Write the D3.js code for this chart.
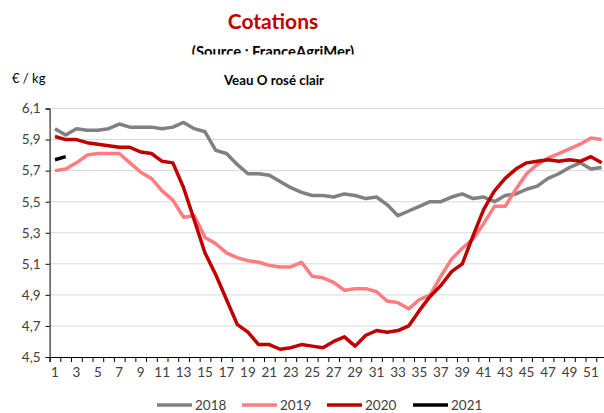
<!DOCTYPE html>
<html><head><meta charset="utf-8">
<script src="https://cdn.jsdelivr.net/npm/d3@7"></script>
<style>body{margin:0;background:#fff}svg{display:block}</style>
</head><body>
<svg id="c" width="604" height="413"></svg>
<script>
const weeks = [1,2,3,4,5,6,7,8,9,10,11,12,13,14,15,16,17,18,19,20,21,22,23,24,25,26,27,28,29,30,31,32,33,34,35,36,37,38,39,40,41,42,43,44,45,46,47,48,49,50,51,52];
const v2018 = [5.97,5.93,5.97,5.96,5.96,5.97,6.00,5.98,5.98,5.98,5.97,5.98,6.01,5.97,5.95,5.83,5.81,5.74,5.68,5.68,5.67,5.63,5.59,5.56,5.54,5.54,5.53,5.55,5.54,5.52,5.53,5.48,5.41,5.44,5.47,5.50,5.50,5.53,5.55,5.52,5.53,5.50,5.54,5.55,5.58,5.60,5.65,5.68,5.72,5.75,5.71,5.72];
const v2019 = [5.70,5.71,5.75,5.80,5.81,5.81,5.81,5.75,5.69,5.65,5.57,5.51,5.40,5.41,5.27,5.23,5.17,5.14,5.12,5.11,5.09,5.08,5.08,5.11,5.02,5.01,4.98,4.93,4.94,4.94,4.92,4.86,4.85,4.81,4.87,4.90,5.02,5.13,5.20,5.26,5.36,5.47,5.47,5.58,5.68,5.74,5.78,5.81,5.84,5.87,5.91,5.90];
const v2020 = [5.92,5.90,5.90,5.88,5.87,5.86,5.85,5.85,5.82,5.81,5.76,5.75,5.59,5.38,5.17,5.03,4.87,4.71,4.66,4.58,4.58,4.55,4.56,4.58,4.57,4.56,4.60,4.63,4.57,4.64,4.67,4.66,4.67,4.70,4.80,4.89,4.96,5.05,5.10,5.28,5.45,5.57,5.65,5.71,5.75,5.76,5.77,5.76,5.77,5.76,5.79,5.75];
const v2021 = [5.77,5.79];
const seriesNames = ["2018","2019","2020","2021"];
const seriesColors = ["#808080","#ff7c80","#c00000","#000000"];
const yTicks = [4.5,4.7,4.9,5.1,5.3,5.5,5.7,5.9,6.1];

const FONT = "Lato, 'Open Sans', sans-serif";
const svg = d3.select("#c");
const series = [v2018, v2019, v2020, v2021];

const pL = 49.6, pR = 607, pT = 108.5, pB = 357;
const x = d3.scaleBand().domain(weeks).range([pL, pR]).padding(0);
const xb = d3.scaleLinear().domain([0, weeks.length]).range([pL, pR]);
const y = d3.scaleLinear().domain([4.5, 6.1]).range([pB, pT]);

// titles
svg.append("text").attr("x", 273).attr("y", 29).attr("text-anchor","middle")
  .attr("font-family", FONT).attr("font-weight","bold").attr("font-size",21).attr("fill","#c00000").text("Cotations");
svg.append("clipPath").attr("id","srcclip").append("rect").attr("x",0).attr("y",0).attr("width",604).attr("height",54.5);
svg.append("text").attr("x", 273).attr("y", 57).attr("text-anchor","middle").attr("clip-path","url(#srcclip)")
  .attr("font-family", FONT).attr("font-weight","bold").attr("font-size",14.8).attr("fill","#000").text("(Source : FranceAgriMer)");
svg.append("text").attr("x", 12).attr("y", 83)
  .attr("font-family", FONT).attr("font-size",13).attr("fill","#000").text("€ / kg");
svg.append("text").attr("x", 274).attr("y", 85).attr("text-anchor","middle")
  .attr("font-family", FONT).attr("font-weight","bold").attr("font-size",13.3).attr("fill","#000").text("Veau O rosé clair");

// gridlines
svg.append("g").selectAll("line").data(yTicks.filter(d => d > 4.5)).join("line")
  .attr("x1", pL).attr("x2", 604).attr("y1", d => y(d)).attr("y2", d => y(d))
  .attr("stroke","#d9d9d9").attr("stroke-width",1);

// y axis
const ya = svg.append("g").attr("transform", `translate(${pL},0)`)
  .call(d3.axisLeft(y).tickValues(yTicks).tickSize(4).tickPadding(5).tickFormat(d => d3.format(".1f")(d).replace(".", ",")));
ya.select(".domain").attr("stroke","#000");
ya.selectAll(".tick line").attr("stroke","#000");
ya.selectAll("text").attr("font-family", FONT).attr("font-size",13.5).attr("fill","#404040");

// x axis: ticks at category boundaries
const xt = svg.append("g").attr("transform", `translate(0,${pB})`)
  .call(d3.axisBottom(xb).tickValues(d3.range(0, weeks.length + 1)).tickSize(5).tickFormat(""));
xt.select(".domain").attr("stroke","#000");
xt.selectAll(".tick line").attr("stroke","#000");
const xl = svg.append("g").attr("transform", `translate(0,${pB})`)
  .call(d3.axisBottom(x).tickValues(weeks.filter(w => w % 2 === 1)).tickSize(0).tickPadding(10));
xl.select(".domain").remove();
xl.selectAll("text").attr("font-family", FONT).attr("font-size",13.5).attr("fill","#404040");

// lines
const line = d3.line().x((d, i) => x(weeks[i]) + x.bandwidth() / 2).y(d => y(d));
series.forEach((s, i) => {
  svg.append("path").datum(s).attr("d", line).attr("fill","none")
    .attr("stroke", seriesColors[i]).attr("stroke-width", 3.5).attr("stroke-linejoin","round");
});

// legend
const legX = [157, 242, 327, 413];
const lg = svg.append("g");
seriesNames.forEach((n, i) => {
  lg.append("line").attr("x1", legX[i]).attr("x2", legX[i] + 35).attr("y1", 405).attr("y2", 405)
    .attr("stroke", seriesColors[i]).attr("stroke-width", 3.5);
  lg.append("text").attr("x", legX[i] + 38).attr("y", 409.5)
    .attr("font-family", FONT).attr("font-size",13.5).attr("fill","#404040").text(n);
});
</script>
</body></html>
